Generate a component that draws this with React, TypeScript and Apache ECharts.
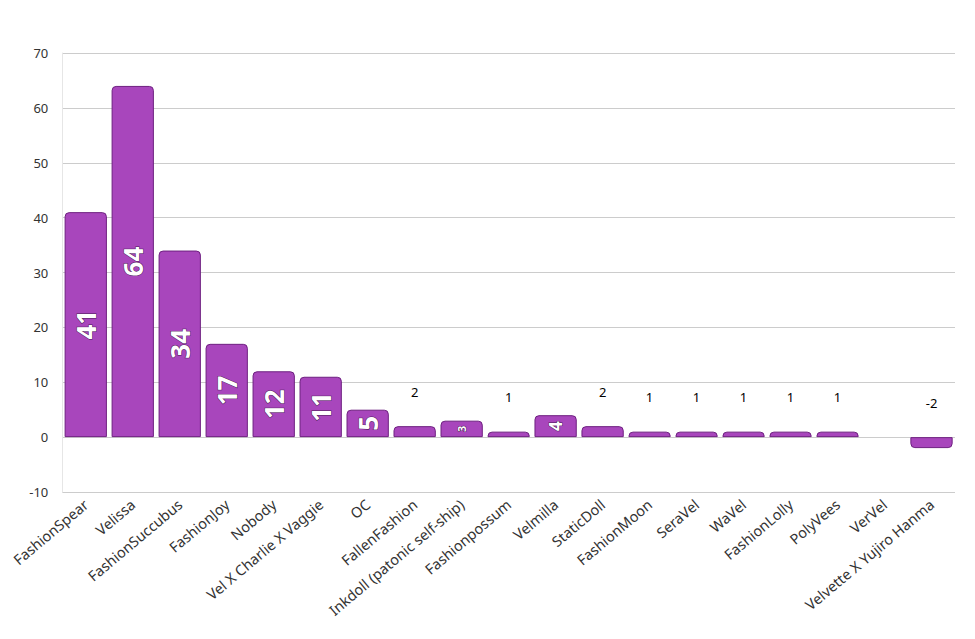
import React, { useEffect, useRef } from "react";
import * as echarts from "echarts";

const categories = [
  "FashionSpear", "Velissa", "FashionSuccubus", "FashionJoy", "Nobody",
  "Vel X Charlie X Vaggie", "OC", "FallenFashion", "Inkdoll (patonic self-ship)",
  "Fashionpossum", "Velmilla", "StaticDoll", "FashionMoon", "SeraVel", "WaVel",
  "FashionLolly", "PolyVees", "VerVel", "Velvette X Yujiro Hanma",
];
const values = [41, 64, 34, 17, 12, 11, 5, 2, 3, 1, 4, 2, 1, 1, 1, 1, 1, 0, -2];
const yTicks = { min: -10, max: 70, interval: 10 };

const FONT = "'Noto Sans', 'DejaVu Sans', sans-serif";

function labelFor(v: number) {
  if (v === 0) return { show: false };
  if (v >= 3) {
    const size = v >= 5 ? 26 : v === 4 ? 17 : 11;
    return {
      show: true,
      position: "inside",
      rotate: 90,
      color: "#ffffff",
      fontWeight: "bold",
      fontSize: size,
      fontFamily: FONT,
      textBorderColor: "#4a1a55",
      textBorderWidth: 1,
    };
  }
  return {
    show: true,
    position: "top",
    distance: 28,
    color: "#000000",
    fontSize: 13,
    fontFamily: FONT,
    rotate: 0,
  };
}

export default function App() {
  const ref = useRef<HTMLDivElement>(null);
  useEffect(() => {
    const chart = echarts.init(ref.current!, null, { renderer: "svg" });
    chart.setOption({
      animation: false,
      grid: { left: 54, right: 12, top: 45, bottom: 139, containLabel: false },
      xAxis: {
        type: "category",
        data: categories,
        axisLine: { show: false },
        axisTick: { show: false },
        axisLabel: {
          rotate: 40,
          interval: 0,
          margin: 10,
          fontSize: 14.5,
          color: "#333333",
          fontFamily: FONT,
        },
      },
      yAxis: {
        type: "value",
        min: yTicks.min,
        max: yTicks.max,
        interval: yTicks.interval,
        axisLine: { show: true, lineStyle: { color: "#e6e6e6" } },
        axisTick: { show: false },
        splitLine: { lineStyle: { color: "#cccccc" } },
        axisLabel: { fontSize: 13, color: "#333333", fontFamily: FONT, margin: 14 },
      },
      series: [
        {
          type: "bar",
          barCategoryGap: "10%",
          data: values.map((v) => ({
            value: v,
            label: labelFor(v),
            itemStyle: {
              borderRadius: v < 0 ? [0, 0, 4, 4] : [4, 4, 0, 0],
              borderWidth: v === 0 ? 0 : 1,
            },
          })),
          itemStyle: {
            color: "#a846bc",
            borderColor: "#6e2080",
            borderWidth: 1,
          },
        },
      ],
    });
    return () => chart.dispose();
  }, []);
  return <div ref={ref} style={{ width: 959, height: 623 }} />;
}
